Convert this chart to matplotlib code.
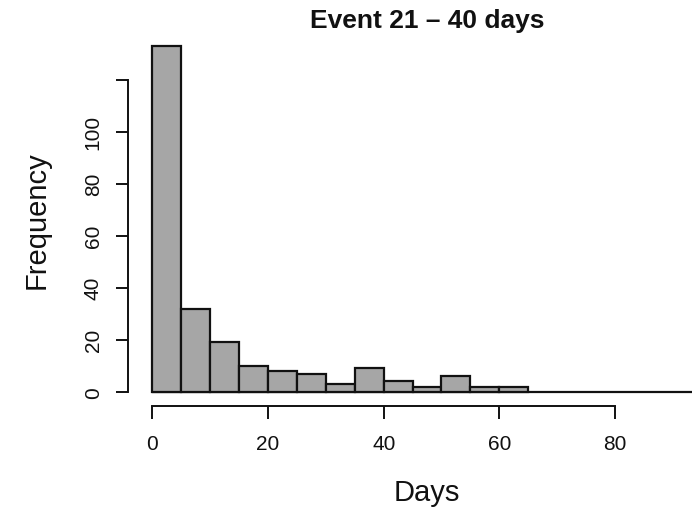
import numpy as np
import matplotlib
matplotlib.use("Agg")
from matplotlib import pyplot as plt

plt.rcParams['font.family'] = ['Liberation Sans', 'DejaVu Sans']

# histogram of days, bins of width 5
bin_edges = [0, 5, 10, 15, 20, 25, 30, 35, 40, 45, 50, 55, 60, 65]
counts = [133, 32, 19, 10, 8, 7, 3, 9, 4, 2, 6, 2, 2]
x_ticks = [0, 20, 40, 60, 80]
y_ticks = [0, 20, 40, 60, 80, 100, 120]
y_labels = ['0', '20', '40', '60', '80', '100', '']

W, H = 692, 510
fig = plt.figure(figsize=(W / 100, H / 100), dpi=100)
# axes box in pixels: left 100, right 692, top 30, bottom 420
ax = fig.add_axes([100 / W, 1 - 420 / H, 592 / W, 390 / H])

edges = np.array(bin_edges)
ax.bar(edges[:-1], counts, width=np.diff(edges), align='edge',
       color='#a6a6a6', edgecolor='#111111', linewidth=1.6, zorder=3)
ax.set_xlim(-9.08, 93.34)
ax.set_ylim(-10.5, 139.5)
ax.hlines(0, edges[0], 93.34, color='#111111', linewidth=1.6, zorder=2)

for s in ['top', 'right']:
    ax.spines[s].set_visible(False)
ax.spines['left'].set_position(('data', -4.3))
ax.spines['left'].set_bounds(0, 120)
ax.spines['bottom'].set_position(('data', -5.6))
ax.spines['bottom'].set_bounds(0, 80)
for s in ['left', 'bottom']:
    ax.spines[s].set_linewidth(1.4)
    ax.spines[s].set_color('#111111')

ax.set_xticks(x_ticks)
ax.set_yticks(y_ticks)
ax.set_yticklabels(y_labels, rotation=90, va='center')
ax.tick_params(axis='both', direction='out', length=9, width=1.4,
               color='#111111', labelsize=15, labelcolor='#111111')
ax.tick_params(axis='x', pad=11)
ax.tick_params(axis='y', pad=9)

fig.text(427 / W, 1 - 21 / H, 'Event 21 \u2013 40 days', ha='center', va='center',
         fontsize=19, fontweight='bold', color='#111111')
fig.text(427 / W, 1 - 493 / H, 'Days', ha='center', va='center',
         fontsize=21, color='#111111')
fig.text(37 / W, 1 - 220 / H, 'Frequency', ha='center', va='center',
         fontsize=21, rotation=90, color='#111111')

fig.savefig('out.png', dpi=100)
